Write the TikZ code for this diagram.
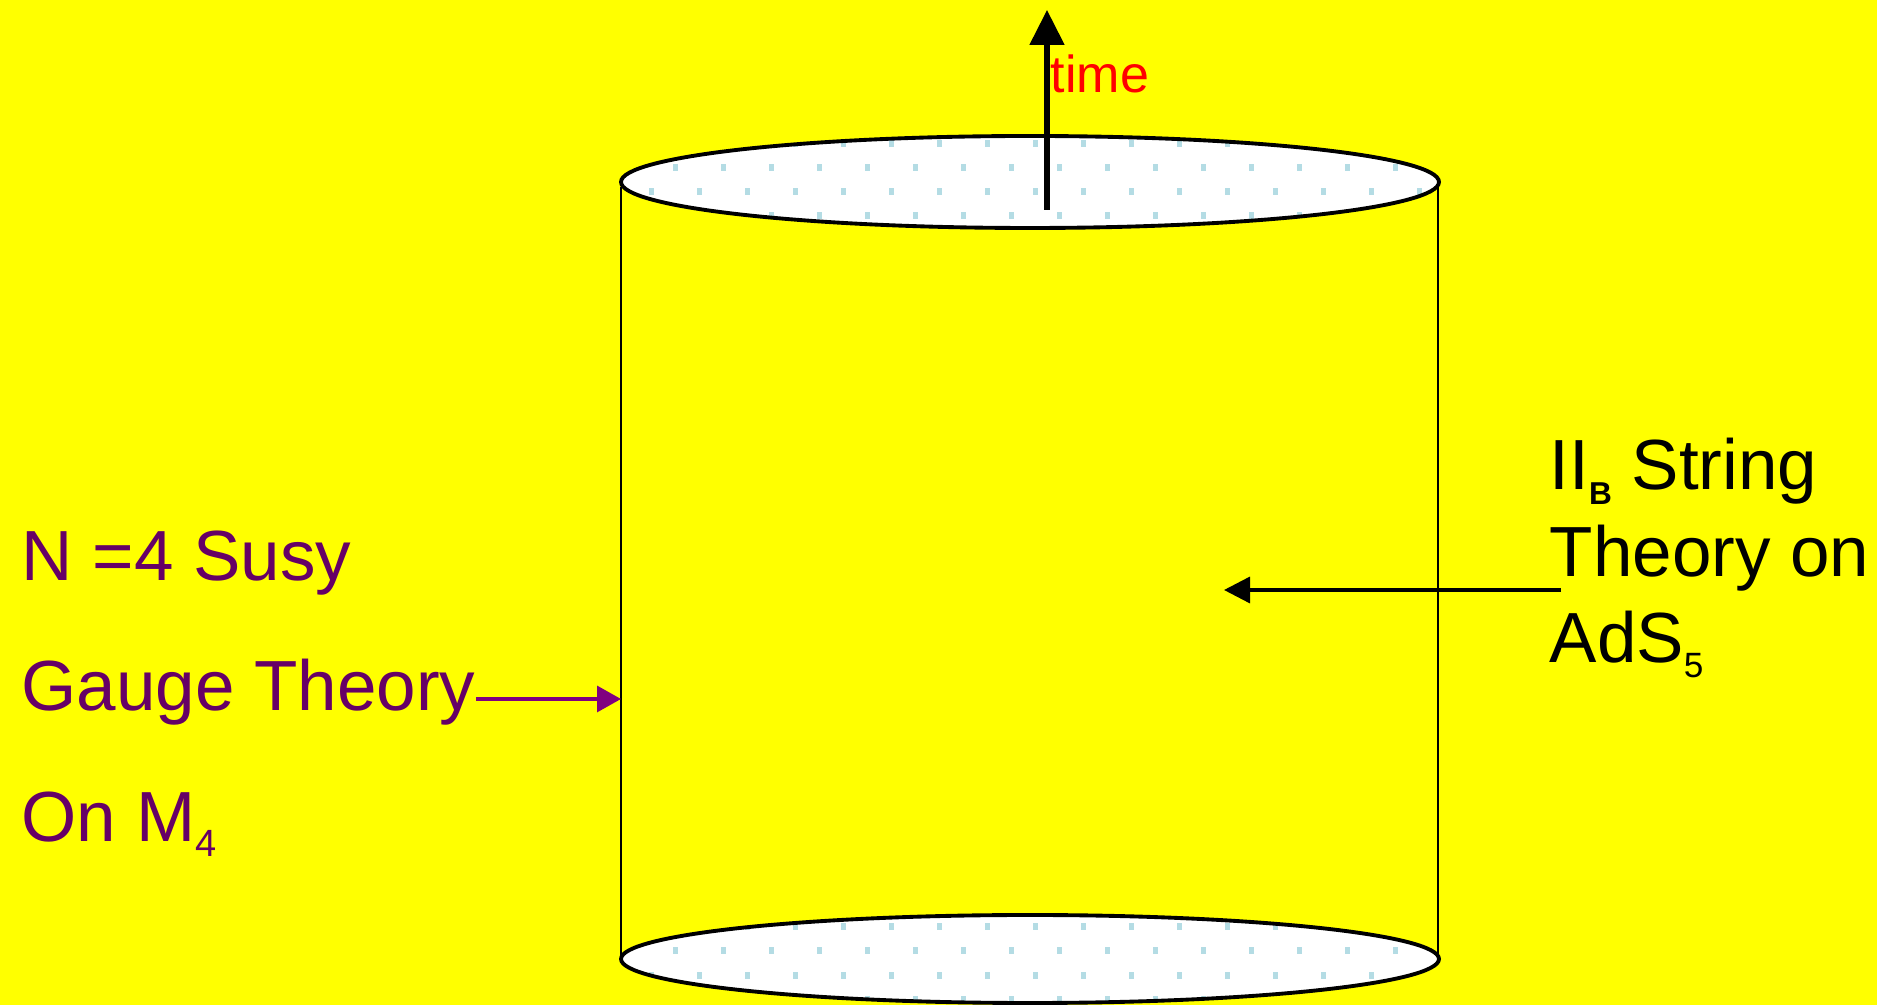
\documentclass[tikz,border=0pt]{standalone}
\usepackage{fontspec}
\setmainfont{Liberation Sans}
\definecolor{adsyellow}{RGB}{255,255,0}
\definecolor{adspurple}{RGB}{102,0,102}
\definecolor{adsviolet}{RGB}{128,0,128}
\definecolor{adsdot}{RGB}{180,220,228}
\definecolor{adsred}{RGB}{255,0,0}
\usetikzlibrary{arrows.meta,positioning,calc}

\begin{document}
\begin{tikzpicture}[
  bigtext/.style={inner sep=0pt, anchor=base west, font=\fontsize{20.2}{24}\selectfont},
  capline/.style={draw=black, line width=1.1pt},
  sideline/.style={draw=black, line width=0.6pt},
  dotmark/.style={fill=adsdot},
  timearrow/.style={draw=black, line width=1.45pt, -{Triangle[length=0.35cm, width=0.34cm]}},
  gaugearrow/.style={draw=adsviolet, line width=0.95pt, -{Triangle[length=0.24cm, width=0.26cm]}},
  stringarrow/.style={draw=black, line width=1pt, -{Triangle[length=0.26cm, width=0.26cm]}}
]
  \fill[adsyellow] (0,0) rectangle (18.77,10.05);
  \useasboundingbox (0,0) rectangle (18.77,10.05);

  \coordinate (cylL) at (6.21,8.18);
  \coordinate (cylR) at (14.38,8.18);
  \draw[sideline] (cylL) -- (6.21,0.50);
  \draw[sideline] (cylR) -- (14.38,0.50);

  \fill[white] (10.30,8.23) ellipse (4.09 and 0.46);
  \fill[white] (10.30,0.46) ellipse (4.09 and 0.44);
  \begin{scope}
    \clip (10.30,8.23) ellipse (4.09 and 0.46);
    \foreach \yy/\xo in {8.61/6.515, 8.37/6.755, 8.13/6.515, 7.89/6.755}
      \foreach \i in {0,...,16}
        \fill[dotmark] (\xo+0.48*\i-0.027,\yy-0.035) rectangle ++(0.055,0.07);
  \end{scope}
  \begin{scope}
    \clip (10.30,0.46) ellipse (4.09 and 0.44);
    \foreach \yy/\xo in {0.78/6.515, 0.54/6.755, 0.29/6.515, 0.05/6.755}
      \foreach \i in {0,...,16}
        \fill[dotmark] (\xo+0.48*\i-0.027,\yy-0.035) rectangle ++(0.055,0.07);
  \end{scope}
  \draw[capline] (10.30,8.23) ellipse (4.09 and 0.46);
  \draw[capline] (10.30,0.46) ellipse (4.09 and 0.44);

  \coordinate (timefoot) at (10.47,7.95);
  \coordinate (timetip) at (10.47,9.95);
  \draw[timearrow] (timefoot) -- (timetip);
  \node[inner sep=0pt, anchor=base west, font=\fontsize{14.8}{18}\selectfont, text=adsred] (timelabel) at (10.50,9.12) {time};

  \node[bigtext, text=adspurple] (susy) at (0.21,4.24) {N =4 Susy};
  \node[bigtext, text=adspurple] (gauge) at (0.21,2.94) {Gauge Theory};
  \node[bigtext, text=adspurple] (onm) at (0.21,1.63) {On M\raisebox{-0.15cm}{\fontsize{10.8}{11}\selectfont 4}};
  \path ([yshift=0.12cm]gauge.base east) coordinate (gaugeout);
  \draw[gaugearrow] (gaugeout) -- (gaugeout -| cylL);

  \node[bigtext] (iib) at (15.49,5.15) {II\raisebox{-0.15cm}{\fontsize{9}{9}\selectfont\bfseries B} String};
  \node[bigtext] (theory) at (15.49,4.28) {Theory on};
  \node[bigtext] (ads) at (15.49,3.42) {AdS\raisebox{-0.15cm}{\fontsize{10}{10}\selectfont 5}};
  \coordinate (stringout) at (15.61,4.15);
  \coordinate (stringtip) at (12.24,4.15);
  \draw[stringarrow] (stringout) -- (stringtip);
\end{tikzpicture}
\end{document}
